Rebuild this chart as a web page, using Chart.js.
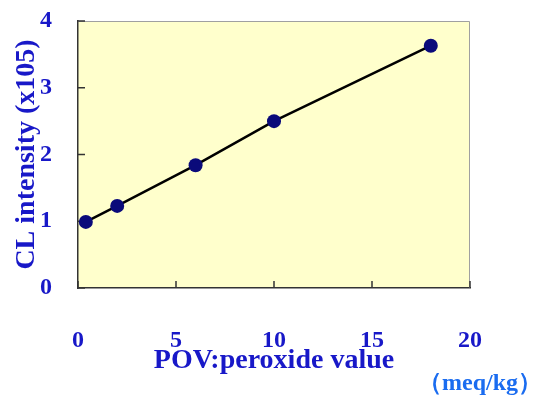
<!DOCTYPE html>
<html>
<head>
<meta charset="utf-8">
<script src="https://cdn.jsdelivr.net/npm/chart.js@4"></script>
<style>
  html, body { margin: 0; padding: 0; background: #fff; }
  #wrap { position: relative; width: 533px; height: 396px; }
</style>
</head>
<body>
<div id="wrap"><canvas id="main-chart" width="533" height="396"></canvas></div>
<script>
const povValues = [0.4, 2, 6, 10, 18];
const clValues = [0.99, 1.23, 1.84, 2.5, 3.63];
const xTicks = [0, 5, 10, 15, 20];
const yTicks = [0, 1, 2, 3, 4];
const unitLabel = '（meq/kg）';

const blue = '#1818c8';
const serif = "'Liberation Serif', 'Times New Roman', serif";

// yellow plot box with light top/right edges and inward tick marks
const plotFrame = {
    id: 'plotFrame',
    beforeDatasetsDraw(chart) {
        const {ctx, chartArea: a, scales: {x, y}} = chart;
        ctx.save();
        ctx.strokeStyle = '#a0a0a0';
        ctx.lineWidth = 1;
        ctx.beginPath();
        ctx.moveTo(a.left, a.top + 0.5);
        ctx.lineTo(a.right - 0.5, a.top + 0.5);
        ctx.lineTo(a.right - 0.5, a.bottom);
        ctx.stroke();
        ctx.strokeStyle = '#333';
        ctx.lineWidth = 1.5;
        ctx.beginPath();
        yTicks.forEach(v => {
            const py = y.getPixelForValue(v);
            ctx.moveTo(a.left, py);
            ctx.lineTo(a.left + 7, py);
        });
        xTicks.forEach(v => {
            const px = x.getPixelForValue(v);
            ctx.moveTo(px, a.bottom);
            ctx.lineTo(px, a.bottom - 7);
        });
        ctx.stroke();
        ctx.restore();
    },
    beforeDraw(chart) {
        const {ctx, chartArea: a} = chart;
        ctx.save();
        ctx.fillStyle = '#ffffcc';
        ctx.fillRect(a.left, a.top, a.right - a.left, a.bottom - a.top);
        ctx.restore();
    },
    afterDraw(chart) {
        const {ctx} = chart;
        ctx.save();
        ctx.fillStyle = '#1a6cf0';
        ctx.font = 'bold 24px ' + serif;
        ctx.textAlign = 'right';
        ctx.textBaseline = 'middle';
        ctx.fillText(unitLabel, 542, 384);
        ctx.restore();
    }
};

new Chart(document.getElementById('main-chart'), {
    type: 'scatter',
    data: {
        datasets: [{
            data: povValues.map((v, i) => ({x: v, y: clValues[i]})),
            showLine: true,
            borderColor: '#000',
            borderWidth: 2.5,
            backgroundColor: '#0a0a7a',
            pointBackgroundColor: '#0a0a7a',
            pointBorderColor: '#0a0a7a',
            pointRadius: 7,
            pointBorderWidth: 0
        }]
    },
    options: {
        responsive: false,
        animation: false,
        layout: {
            padding: {top: 21, right: 63, bottom: 0, left: 0}
        },
        plugins: {
            legend: {display: false},
            tooltip: {enabled: false}
        },
        scales: {
            x: {
                type: 'linear',
                min: 0,
                max: 20,
                afterFit: s => { s.height = 108; s.paddingLeft = 0; s.paddingRight = 0; },
                afterBuildTicks: s => { s.ticks = xTicks.map(v => ({value: v})); },
                grid: {display: false, drawTicks: false},
                border: {display: true, color: '#333', width: 1.5},
                ticks: {
                    color: blue,
                    padding: 38,
                    maxRotation: 0,
                    font: {family: serif, size: 24, weight: 'bold'}
                },
                title: {
                    display: true,
                    text: 'POV:peroxide value',
                    color: blue,
                    padding: 18,
                    font: {family: serif, size: 28, weight: 'bold'}
                }
            },
            y: {
                type: 'linear',
                min: 0,
                max: 4,
                afterFit: s => { s.width = 78; s.paddingTop = 0; s.paddingBottom = 0; },
                afterBuildTicks: s => { s.ticks = yTicks.map(v => ({value: v})); },
                grid: {display: false, drawTicks: false},
                border: {display: true, color: '#333', width: 1.5},
                ticks: {
                    color: blue,
                    padding: 26,
                    font: {family: serif, size: 24, weight: 'bold'}
                },
                title: {
                    display: true,
                    text: 'CL intensity (x105)',
                    color: blue,
                    padding: 10,
                    font: {family: serif, size: 28, weight: 'bold'}
                }
            }
        }
    },
    plugins: [plotFrame]
});
</script>
</body>
</html>
